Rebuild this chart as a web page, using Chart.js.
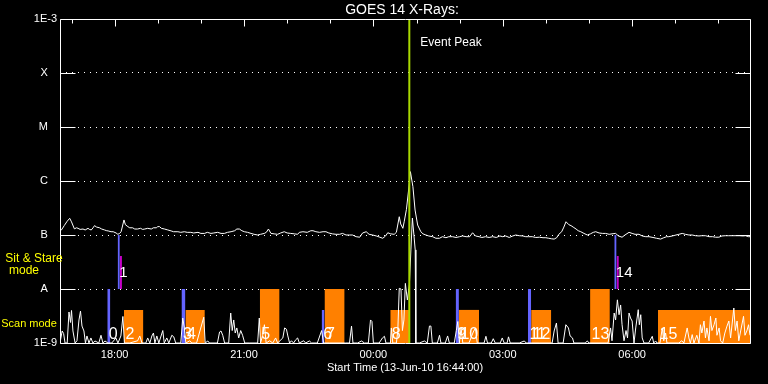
<!DOCTYPE html>
<html><head><meta charset="utf-8">
<script src="https://cdn.jsdelivr.net/npm/chart.js@4.4.1/dist/chart.umd.min.js"></script>
<style>html,body{margin:0;padding:0;background:#000;overflow:hidden}canvas{display:block}</style>
</head><body>
<canvas id="c" width="768" height="384"></canvas>
<script>
// Time axis: minutes since 13-Jun-10 16:44:00
// GOES 14 long channel (1-8 A): [minute, flux W/m^2]
const goesLong = [[0,1.20e-7],[2,1.24e-7],[6,1.50e-7],[10,1.80e-7],[13.5,2.04e-7],[16,1.75e-7],[20,1.30e-7],[23,1.36e-7],[25,1.33e-7],[28,1.27e-7],[32,1.29e-7],[35,1.24e-7],[39,1.33e-7],[41,1.27e-7],[43.5,1.24e-7],[46,1.36e-7],[48,1.49e-7],[51,1.40e-7],[55,1.36e-7],[58,1.29e-7],[62,1.24e-7],[65,1.20e-7],[67,1.19e-7],[71,1.15e-7],[74,1.15e-7],[78,1.09e-7],[80.5,1.03e-7],[83,1.07e-7],[85,1.15e-7],[89,1.90e-7],[91,1.55e-7],[94.4,1.43e-7],[97,1.36e-7],[101,1.36e-7],[104,1.29e-7],[108,1.29e-7],[112,1.33e-7],[115,1.27e-7],[118,1.29e-7],[122,1.33e-7],[127,1.29e-7],[130,1.36e-7],[134,1.36e-7],[136,1.43e-7],[138.5,1.43e-7],[141,1.33e-7],[145.4,1.29e-7],[150,1.24e-7],[154.6,1.19e-7],[158,1.15e-7],[164,1.15e-7],[168,1.12e-7],[173,1.15e-7],[177,1.12e-7],[182,1.12e-7],[186,1.09e-7],[192,1.12e-7],[196,1.07e-7],[201,1.07e-7],[205,1.12e-7],[210,1.07e-7],[214,1.09e-7],[219.4,1.12e-7],[224,1.07e-7],[228.7,1.07e-7],[233,1.12e-7],[238,1.15e-7],[243,1.20e-7],[246,1.29e-7],[249.6,1.29e-7],[253,1.20e-7],[256.5,1.15e-7],[261,1.12e-7],[265.7,1.07e-7],[270,1.03e-7],[275,1.00e-7],[279,1.03e-7],[284.3,1.07e-7],[287,1.12e-7],[290,1.29e-7],[293.5,1.07e-7],[298,1.05e-7],[302.8,1.03e-7],[307,1.09e-7],[312,1.15e-7],[316,1.09e-7],[321,1.07e-7],[326,1.05e-7],[330.6,1.03e-7],[333,1.12e-7],[338,1.15e-7],[344,1.12e-7],[349,1.20e-7],[352,1.20e-7],[356,1.15e-7],[361,1.12e-7],[366,1.15e-7],[370,1.15e-7],[374,1.09e-7],[379,1.05e-7],[384,1.03e-7],[389,1.03e-7],[393,1.07e-7],[398,1.00e-7],[403,1.00e-7],[407,1.00e-7],[412,9.3e-8],[417,9.1e-8],[421,1.09e-7],[426,1.15e-7],[430,1.03e-7],[435,1.00e-7],[440,9.6e-8],[445,9.1e-8],[449,8.7e-8],[453,9.6e-8],[456,1.10e-7],[460,1.05e-7],[465,1.03e-7],[468,1.12e-7],[472,2.18e-7],[474,1.60e-7],[477,1.33e-7],[479,1.80e-7],[482,2.99e-7],[485,6.81e-7],[487.5,1.49e-6],[491,7.84e-7],[494,2.90e-7],[497.6,1.53e-7],[502,1.15e-7],[505,1.05e-7],[509,1.00e-7],[513,9.6e-8],[518.5,9.3e-8],[523,8.7e-8],[528,8.7e-8],[532,9.3e-8],[537,8.9e-8],[541,9.3e-8],[546,9.3e-8],[551,9.0e-8],[556,9.3e-8],[560,9.6e-8],[565,9.3e-8],[570,9.3e-8],[574,1.10e-7],[578,9.6e-8],[583,9.3e-8],[587,9.0e-8],[592,9.3e-8],[597,9.0e-8],[602,9.3e-8],[607,9.0e-8],[612,9.6e-8],[616,9.3e-8],[620,9.6e-8],[625,9.0e-8],[630,9.6e-8],[634,1.0e-7],[639,9.7e-8],[644,9.6e-8],[648,9.3e-8],[652,9.3e-8],[657,9.3e-8],[662,9.0e-8],[667,9.1e-8],[672,8.9e-8],[676,8.9e-8],[680,8.7e-8],[684,8.5e-8],[687.5,8.4e-8],[691,8.9e-8],[694,1.03e-7],[698,1.15e-7],[701,1.40e-7],[704,1.76e-7],[708,1.55e-7],[711,1.49e-7],[714,1.40e-7],[718,1.29e-7],[721,1.20e-7],[724.6,1.15e-7],[729,1.07e-7],[733.7,1.00e-7],[738,1.05e-7],[742,1.12e-7],[745.4,1.15e-7],[750,1.09e-7],[755,1.07e-7],[759,1.07e-7],[764,1.03e-7],[768,1.05e-7],[773,1.07e-7],[777,9.6e-8],[782,9.1e-8],[786,1.0e-7],[791.7,1.12e-7],[796,1.07e-7],[800,1.03e-7],[805.6,1.03e-7],[810,9.6e-8],[815,9.3e-8],[819.5,9.3e-8],[825,9.0e-8],[830,8.7e-8],[835.7,8.4e-8],[840,8.9e-8],[844,9.3e-8],[847,9.3e-8],[852,9.6e-8],[857,1.0e-7],[861,1.03e-7],[865.7,1.07e-7],[870,1.03e-7],[875,1.0e-7],[879.6,1.0e-7],[884,9.7e-8],[889,9.6e-8],[893,9.7e-8],[898,9.7e-8],[903,9.3e-8],[908,9.3e-8],[912,9.1e-8],[916.7,9.1e-8],[921,9.6e-8],[926,9.7e-8],[930,9.7e-8],[935,9.7e-8],[940,9.7e-8],[945,9.7e-8],[950,9.6e-8],[953.7,9.7e-8],[958,9.3e-8],[960,9.3e-8]];

// GOES 14 short channel (0.5-4 A): [minute, flux]
const goesShort = [[0,1e-9],[3,1.67e-9],[5,1.5e-9],[7,1e-9],[10,1e-9],[12.5,3.75e-9],[14.6,2.4e-9],[16,4.0e-9],[18,1.67e-9],[21,1e-9],[23.6,1.1e-9],[26.4,2.67e-9],[28.5,3.9e-9],[30.6,2.06e-9],[33.3,1.67e-9],[35.4,1e-9],[37.5,1.35e-9],[40.3,1e-9],[43,1.24e-9],[45.8,1e-9],[48.6,1.09e-9],[54,1e-9],[57,1.39e-9],[59.7,1e-9],[62.5,1.09e-9],[66.7,1e-9],[72,1e-9],[77.8,1.24e-9],[80.6,1e-9],[84.7,1.35e-9],[87.5,3.1e-9],[89.6,1e-9],[97,1e-9],[108,1.1e-9],[111,1.35e-9],[114,1e-9],[119.4,1e-9],[122,1.24e-9],[125,1e-9],[127.8,1.35e-9],[130,1.53e-9],[132,1e-9],[134.7,1.35e-9],[137.5,1e-9],[143,1.7e-9],[145,1e-9],[148.6,1.24e-9],[151.4,1e-9],[155.6,1.39e-9],[158.3,1.3e-9],[161,1e-9],[168,1e-9],[170.8,2.9e-9],[173,1.9e-9],[175,1e-9],[180.6,1.1e-9],[183.3,1e-9],[190,1e-9],[200,3.0e-9],[202,1e-9],[205.6,1.09e-9],[208,1e-9],[219,1e-9],[222,1.6e-9],[224,1.67e-9],[226.4,1.39e-9],[229,1e-9],[234.7,1e-9],[237.5,3.59e-9],[239.6,1.7e-9],[241.7,2.67e-9],[243.8,1.53e-9],[246,1.9e-9],[248.6,1.24e-9],[251.4,1.7e-9],[254,1.39e-9],[257,1e-9],[264,1e-9],[275,1e-9],[277.3,2.9e-9],[279,1e-9],[282,1.39e-9],[284.4,2.18e-9],[286.8,1e-9],[291.7,1.1e-9],[296,1e-9],[300,1.24e-9],[302.8,1e-9],[310,1.24e-9],[312.5,1.9e-9],[315,1.8e-9],[317,1.35e-9],[319.4,1e-9],[322,1.1e-9],[325,1e-9],[328,1.15e-9],[330.6,1.24e-9],[333,1e-9],[339,1.1e-9],[341.7,1e-9],[347,1.09e-9],[350,1e-9],[358,1e-9],[364,1.7e-9],[366.7,1e-9],[375,1e-9],[397,1e-9],[402.8,1e-9],[405.6,2.06e-9],[407.6,1e-9],[414,1e-9],[419.4,1.09e-9],[423.6,1e-9],[429,1e-9],[432,2.67e-9],[434,2.5e-9],[436,1e-9],[444,1e-9],[448.6,1.24e-9],[451.4,1.33e-9],[453.5,1e-9],[459.7,1e-9],[461,1.9e-9],[463,1e-9],[468,1e-9],[470,1.7e-9],[472,1.03e-8],[474.4,1e-8],[476.4,1.7e-9],[478.5,2.67e-9],[480.5,1.27e-8],[483.3,6.25e-9],[486.1,1.2e-8],[488.2,5.3e-8],[490.3,2.06e-7],[492.4,1.0e-7],[494.2,5.3e-8],[495.1,1e-9],[500,1e-9],[507,1.09e-9],[511,1e-9],[514,2.06e-9],[516,2.06e-9],[518,1e-9],[525,1e-9],[528,1.39e-9],[530,1e-9],[536,1e-9],[539.3,1.35e-9],[541.7,1e-9],[548.6,1e-9],[551.4,1.7e-9],[553.5,2.5e-9],[555.6,1e-9],[558,1.9e-9],[560.4,1e-9],[569,1e-9],[575,1.6e-9],[578,1.9e-9],[580.5,1e-9],[590,1e-9],[592.6,1.33e-9],[594.8,1e-9],[600,1e-9],[602.8,1.2e-9],[605.6,1e-9],[612.5,1e-9],[615.3,1.24e-9],[618,1e-9],[622,1e-9],[624,1.3e-9],[626.4,1e-9],[639,1e-9],[646,1.09e-9],[648.6,1e-9],[666.7,1e-9],[684.7,1e-9],[687.5,1.67e-9],[690.7,2.34e-9],[693,1e-9],[700,1e-9],[703.8,2.18e-9],[707.4,1.9e-9],[709.7,1.35e-9],[713,1.24e-9],[715,1e-9],[730.6,1e-9],[733.7,1.09e-9],[736,1e-9],[762.5,1e-9],[766,1.9e-9],[768,1.1e-9],[771,3.59e-9],[773,2.67e-9],[775.5,6.3e-9],[777.8,3.34e-9],[780,5.06e-9],[782,2.18e-9],[784.7,1.1e-9],[787.5,1.7e-9],[789.6,1.24e-9],[791.7,3.59e-9],[793.8,2.9e-9],[796,2.55e-9],[798.6,1e-9],[801,1.9e-9],[804.5,4.14e-9],[806,2.18e-9],[808,3.34e-9],[810,1.24e-9],[812.5,1e-9],[819,1e-9],[824,1.33e-9],[826,1e-9],[828.7,1.09e-9],[830.6,1e-9],[834.7,1e-9],[838,1.9e-9],[840,1.1e-9],[842.6,1.53e-9],[844.4,1e-9],[861,1e-9],[865,1.1e-9],[868,1e-9],[872.6,1.9e-9],[875,1.24e-9],[877,1e-9],[879.6,1.43e-9],[882,1e-9],[886,1.39e-9],[889,1e-9],[891,2.18e-9],[893,1.53e-9],[896,2.55e-9],[898,1.24e-9],[900,1.9e-9],[903,1.1e-9],[905,3.12e-9],[907,1.7e-9],[910,2.18e-9],[912.5,2.9e-9],[914,1.39e-9],[917,1.9e-9],[919,1.1e-9],[922,1e-9],[925,1.53e-9],[928,2.06e-9],[930.6,2.55e-9],[933,1.24e-9],[937.5,4.45e-9],[939.6,1.7e-9],[942,2.55e-9],[944.4,1.1e-9],[947,1.67e-9],[951,3.12e-9],[953,1.39e-9],[955.6,1.67e-9],[958,2.18e-9],[960,1.39e-9]];

// Observation segments
const segNumbers = ['0','1','2','3','4','5','6','7','8','9','10','11','12','13','14','15'];
const segStart   = [65.8, 80.2, 89, 169, 174.5, 278, 364, 368, 459.5, 550.5, 555, 651, 655.5, 737.5, 771.2, 832];
const segEnd     = [70, 86.2, 116, 174.5, 201.5, 305.5, 368, 396, 486, 555, 583, 655.5, 683.5, 765, 777.5, 960];
const segKind    = ['pointTall','sit','scanShort','pointTall','scanShort','scanTall','pointShort','scanTall','scanShort','pointTall','scanShort','pointTall','scanShort','scanTall','sit','scanShort'];

const eventPeakTime = 486;
const yTickValues = [1e-9, 1e-8, 1e-7, 1e-6, 1e-5, 1e-4, 1e-3];
const yTickLabels = ['1E-9', 'A', 'B', 'C', 'M', 'X', '1E-3'];
const xTickValues = [76, 256, 436, 616, 796];
const xTickLabels = ['18:00', '21:00', '00:00', '03:00', '06:00'];
const hourTicks = [16, 76, 136, 196, 256, 316, 376, 436, 496, 556, 616, 676, 736, 796, 856, 916];

const BLUE = '#6464ff', ORANGE = '#ff8000', MAGENTA = '#c800c8', GREEN = '#a8d800';
const ROW_LOW = 1e-9, ROW_MID = 1e-8, ROW_HIGH = 1e-7, SHORT_TOP = 4.1e-9, MAG_TOP = 4.1e-8;

const datasets = [];
datasets.push({data: [{x: eventPeakTime, y: 1e-9}, {x: eventPeakTime, y: 1e-3}], borderColor: GREEN, borderWidth: 2, order: 0});
datasets.push({data: goesLong.map(p => ({x: p[0], y: p[1]})), borderColor: '#ffffff', borderWidth: 1, order: 1});
datasets.push({data: goesShort.map(p => ({x: p[0], y: p[1]})), borderColor: '#ffffff', borderWidth: 1, order: 1});

function rect(t0, t1, lo, hi, color) {
  datasets.push({data: [{x: t0, y: hi}, {x: t1, y: hi}], fill: {value: lo}, backgroundColor: color,
    borderColor: 'rgba(0,0,0,0)', borderWidth: 0, order: 5});
}
segKind.forEach((k, i) => {
  const s = segStart[i], e = segEnd[i];
  if (k === 'pointTall') rect(s, e, ROW_LOW, ROW_MID, BLUE);
  else if (k === 'pointShort') rect(s, e, ROW_LOW, SHORT_TOP, BLUE);
  else if (k === 'scanTall') rect(s, e, ROW_LOW, ROW_MID, ORANGE);
  else if (k === 'scanShort') rect(s, e, ROW_LOW, SHORT_TOP, ORANGE);
  else if (k === 'sit') {
    const m = (s + e) / 2;
    rect(s, m, ROW_MID, ROW_HIGH, BLUE);
    rect(m, e, ROW_MID, MAG_TOP, MAGENTA);
  }
});

const FONT = '"Liberation Sans", Arial, sans-serif';

const framePlugin = {
  id: 'frame',
  afterDatasetsDraw(chart) {
    const {ctx, chartArea: a, scales: {x, y}} = chart;
    ctx.save();
    ctx.strokeStyle = '#fff';
    ctx.lineWidth = 1;
    const L = Math.round(a.left) + 0.5, R = Math.round(a.right) + 0.5, T = Math.round(a.top) + 0.5, B = Math.round(a.bottom) + 0.5;
    ctx.beginPath();
    ctx.rect(L, T, R - L, B - T);
    yTickValues.forEach(v => {
      const py = Math.round(y.getPixelForValue(v)) + 0.5;
      ctx.moveTo(L, py); ctx.lineTo(L + 15, py);
      ctx.moveTo(R - 15, py); ctx.lineTo(R, py);
    });
    hourTicks.forEach(m => {
      const px = Math.round(x.getPixelForValue(m)) + 0.5;
      const len = xTickValues.includes(m) ? 7 : 4;
      ctx.moveTo(px, T); ctx.lineTo(px, T + len);
    });
    ctx.stroke();

    // title
    ctx.fillStyle = '#fff';
    ctx.font = '14px ' + FONT;
    ctx.textAlign = 'center';
    ctx.textBaseline = 'middle';
    ctx.fillText('GOES 14 X-Rays:', (a.left + a.right) / 2 - 3, 10);

    // event label
    ctx.font = '12px ' + FONT;
    ctx.textAlign = 'left';
    ctx.fillText('Event Peak', x.getPixelForValue(eventPeakTime) + 11, 43);

    // row labels
    ctx.fillStyle = '#ffff00';
    ctx.textAlign = 'center';
    ctx.font = '12px ' + FONT;
    ctx.fillText('Sit & Stare', 34, 259);
    ctx.fillText('mode', 24, 271);
    ctx.font = '11px ' + FONT;
    ctx.fillText('Scan mode', 29, 324);

    // segment numbers
    ctx.fillStyle = '#fff';
    ctx.textAlign = 'left';
    ctx.textBaseline = 'alphabetic';
    segNumbers.forEach((lab, i) => {
      const px = x.getPixelForValue(segStart[i]) + 1.5;
      if (segKind[i] === 'sit') {
        ctx.font = '15px ' + FONT;
        ctx.fillText(lab, px, y.getPixelForValue(ROW_MID) - 12);
      } else {
        ctx.font = '16px ' + FONT;
        ctx.fillText(lab, px, y.getPixelForValue(ROW_LOW) - 4.5);
      }
    });
    ctx.restore();
  }
};

new Chart(document.getElementById('c'), {
  type: 'line',
  data: {datasets},
  options: {
    responsive: false,
    animation: false,
    devicePixelRatio: 1,
    layout: {padding: {top: 19, right: 18, left: 0, bottom: 0}},
    plugins: {legend: {display: false}, tooltip: {enabled: false}, title: {display: false}},
    elements: {point: {radius: 0, hoverRadius: 0}, line: {tension: 0}},
    scales: {
      x: {
        type: 'linear', min: 0, max: 960, position: 'bottom',
        afterBuildTicks: s => { s.ticks = xTickValues.map(v => ({value: v})); },
        afterFit: s => { s.height = 41; },
        ticks: {color: '#fff', font: {family: FONT, size: 11}, padding: 5, maxRotation: 0, autoSkip: false,
          callback: (v, i) => xTickLabels[i]},
        grid: {display: false, drawTicks: false},
        border: {display: false},
        title: {display: true, text: 'Start Time (13-Jun-10 16:44:00)', color: '#fff',
          font: {family: FONT, size: 11}, padding: {top: 0, bottom: 9}}
      },
      y: {
        type: 'logarithmic', min: 1e-9, max: 1e-3, position: 'left',
        afterBuildTicks: s => { s.ticks = yTickValues.map(v => ({value: v})); },
        afterFit: s => { s.width = 60; },
        ticks: {color: '#fff', font: {family: FONT, size: 11}, padding: 3, autoSkip: false,
          callback: (v, i) => yTickLabels[i].length === 1 ? yTickLabels[i] + '   ' : yTickLabels[i]},
        grid: {drawTicks: false, lineWidth: 1,
          color: c => (c.tick && (c.tick.value <= 1.01e-9 || c.tick.value >= 0.99e-3)) ? 'rgba(0,0,0,0)' : '#ffffff'},
        border: {display: false, dash: [1, 5]}
      }
    }
  },
  plugins: [framePlugin]
});
</script>
</body></html>
